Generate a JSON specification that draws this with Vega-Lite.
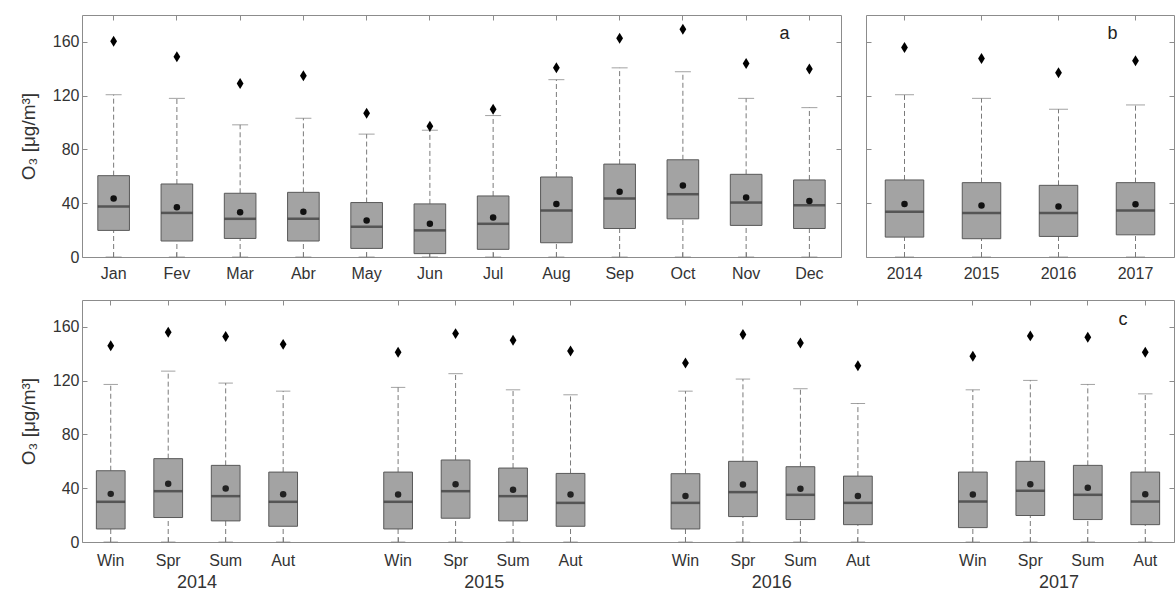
{
  "$schema": "https://vega.github.io/schema/vega-lite/v6.json",
  "padding": {"left": 18, "top": 14, "right": 0, "bottom": 0},
  "background": "white",
  "config": {
    "view": {"stroke": "#8c8c8c", "strokeWidth": 1},
    "font": "Liberation Sans",
    "axis": {"labelFont": "Liberation Sans", "labelFontSize": 16, "labelColor": "#333333", "tickColor": "#8c8c8c", "domain": false, "grid": false, "titleFont": "Liberation Sans", "titleFontSize": 19, "titleFontWeight": "normal", "titleColor": "#333333"},
    "title": {"font": "Liberation Sans", "fontSize": 18, "fontWeight": "normal", "color": "#222222"}
  },
  "datasets": {
    "monthly": [
      {"cat": "Jan", "lo": 0, "q1": 19.8, "med": 37.5, "q3": 60.5, "hi": 120.7, "mean": 43.5, "max": 160.5},
      {"cat": "Fev", "lo": 0, "q1": 11.9, "med": 32.8, "q3": 54.3, "hi": 118, "mean": 37, "max": 148.9},
      {"cat": "Mar", "lo": 0, "q1": 13.8, "med": 28.4, "q3": 47.4, "hi": 98.3, "mean": 33.3, "max": 129},
      {"cat": "Abr", "lo": 0, "q1": 11.9, "med": 28.4, "q3": 48.1, "hi": 103.2, "mean": 33.6, "max": 134.8},
      {"cat": "May", "lo": 0, "q1": 6.4, "med": 22.5, "q3": 40.5, "hi": 91.4, "mean": 27.2, "max": 106.9},
      {"cat": "Jun", "lo": 0, "q1": 2.5, "med": 19.8, "q3": 39.5, "hi": 94.3, "mean": 24.7, "max": 97.3},
      {"cat": "Jul", "lo": 0, "q1": 5.7, "med": 24.7, "q3": 45.4, "hi": 105.2, "mean": 29.4, "max": 109.9},
      {"cat": "Aug", "lo": 0, "q1": 10.6, "med": 34.6, "q3": 59.5, "hi": 131.9, "mean": 39.5, "max": 140.7},
      {"cat": "Sep", "lo": 0, "q1": 21.2, "med": 43.5, "q3": 69.1, "hi": 140.7, "mean": 48.6, "max": 162.7},
      {"cat": "Oct", "lo": 0, "q1": 28.4, "med": 46.7, "q3": 72.3, "hi": 137.8, "mean": 53.1, "max": 169.4},
      {"cat": "Nov", "lo": 0, "q1": 23.5, "med": 40.5, "q3": 61.5, "hi": 118, "mean": 44.2, "max": 144},
      {"cat": "Dec", "lo": 0, "q1": 21.2, "med": 38.5, "q3": 57.3, "hi": 111.1, "mean": 41.7, "max": 139.8}
    ],
    "yearly": [
      {"cat": "2014", "lo": 0, "q1": 14.8, "med": 33.6, "q3": 57.3, "hi": 120.7, "mean": 39.5, "max": 155.8},
      {"cat": "2015", "lo": 0, "q1": 13.6, "med": 32.8, "q3": 55.3, "hi": 118, "mean": 38.3, "max": 147.7},
      {"cat": "2016", "lo": 0, "q1": 15.3, "med": 32.8, "q3": 53.3, "hi": 109.9, "mean": 37.5, "max": 137},
      {"cat": "2017", "lo": 0, "q1": 16.5, "med": 34.6, "q3": 55.3, "hi": 113.1, "mean": 39.3, "max": 145.9}
    ],
    "seasonal": [
      {"cat": "2014 Win", "lo": 0, "q1": 9.7, "med": 29.9, "q3": 53, "hi": 117.2, "mean": 35.8, "max": 146},
      {"cat": "2014 Spr", "lo": 0, "q1": 18.2, "med": 37.8, "q3": 62, "hi": 127.1, "mean": 43.3, "max": 156},
      {"cat": "2014 Sum", "lo": 0, "q1": 15.7, "med": 34.1, "q3": 57, "hi": 118.2, "mean": 39.8, "max": 152.8},
      {"cat": "2014 Aut", "lo": 0, "q1": 11.7, "med": 29.9, "q3": 52, "hi": 112.2, "mean": 35.6, "max": 147},
      {"cat": "2015 Win", "lo": 0, "q1": 9.7, "med": 29.9, "q3": 52, "hi": 115, "mean": 35.3, "max": 141.1},
      {"cat": "2015 Spr", "lo": 0, "q1": 17.7, "med": 37.8, "q3": 61, "hi": 125.2, "mean": 43, "max": 155},
      {"cat": "2015 Sum", "lo": 0, "q1": 15.7, "med": 34.1, "q3": 55, "hi": 113.2, "mean": 38.8, "max": 150},
      {"cat": "2015 Aut", "lo": 0, "q1": 11.7, "med": 29.1, "q3": 51, "hi": 109.5, "mean": 35.3, "max": 142.1},
      {"cat": "2016 Win", "lo": 0, "q1": 9.7, "med": 29.1, "q3": 50.8, "hi": 112.2, "mean": 34.3, "max": 133.1},
      {"cat": "2016 Spr", "lo": 0, "q1": 18.9, "med": 37.1, "q3": 60, "hi": 121.2, "mean": 42.8, "max": 154.3},
      {"cat": "2016 Sum", "lo": 0, "q1": 16.7, "med": 35.1, "q3": 56, "hi": 114, "mean": 39.6, "max": 148},
      {"cat": "2016 Aut", "lo": 0, "q1": 12.9, "med": 29.1, "q3": 49, "hi": 103, "mean": 34.3, "max": 131.1},
      {"cat": "2017 Win", "lo": 0, "q1": 10.7, "med": 30.1, "q3": 52, "hi": 113.2, "mean": 35.3, "max": 138.1},
      {"cat": "2017 Spr", "lo": 0, "q1": 19.7, "med": 38.1, "q3": 60, "hi": 120.2, "mean": 43, "max": 153.3},
      {"cat": "2017 Sum", "lo": 0, "q1": 16.7, "med": 35.1, "q3": 57, "hi": 117.2, "mean": 40.3, "max": 152.3},
      {"cat": "2017 Aut", "lo": 0, "q1": 12.9, "med": 30.1, "q3": 52, "hi": 110.2, "mean": 35.6, "max": 141.1}
    ]
  },
  "spacing": 17,
  "vconcat": [
    {
      "bounds": "flush",
      "spacing": 25,
      "hconcat": [
        {
          "width": 759, "height": 242,
          "title": {"text": "a", "anchor": "end", "offset": 0, "dx": -52, "dy": 28},
          "data": {"name": "monthly"},
          "layer": [
            {"mark": {"type": "rule", "color": "#7a7a7a", "strokeDash": [5, 3]},
             "encoding": {
               "x": {"field": "cat", "type": "nominal", "scale": {"domain": ["Jan","Fev","Mar","Abr","May","Jun","Jul","Aug","Sep","Oct","Nov","Dec"], "paddingInner": 0, "paddingOuter": 0}, "axis": {"orient": "bottom", "title": null, "labelAngle": 0, "tickSize": -5, "labelPadding": 13}},
               "y": {"field": "q3", "type": "quantitative", "scale": {"domain": [0, 180], "nice": false}, "axis": {"values": [0, 40, 80, 120, 160], "title": "O₃ [μg/m³]", "tickSize": -5, "labelPadding": 8, "titlePadding": 14}},
               "y2": {"field": "hi"}}},
            {"mark": {"type": "rule", "color": "#7a7a7a", "strokeDash": [5, 3]},
             "encoding": {"x": {"field": "cat", "type": "nominal", "axis": null}, "y": {"field": "lo", "type": "quantitative", "axis": null}, "y2": {"field": "q1"}}},
            {"mark": {"type": "bar", "fill": "#a3a3a3", "stroke": "#595959", "strokeWidth": 1, "width": {"band": 0.5}},
             "encoding": {"x": {"field": "cat", "type": "nominal", "axis": null}, "y": {"field": "q1", "type": "quantitative", "axis": null}, "y2": {"field": "q3"}}},
            {"mark": {"type": "tick", "color": "#7a7a7a", "size": 16, "thickness": 1},
             "encoding": {"x": {"field": "cat", "type": "nominal", "axis": null}, "y": {"field": "hi", "type": "quantitative", "axis": null}}},
            {"mark": {"type": "tick", "color": "#7a7a7a", "size": 16, "thickness": 1},
             "encoding": {"x": {"field": "cat", "type": "nominal", "axis": null}, "y": {"field": "lo", "type": "quantitative", "axis": null}}},
            {"mark": {"type": "tick", "color": "#333333", "size": 31.6, "thickness": 2.5},
             "encoding": {"x": {"field": "cat", "type": "nominal", "axis": null}, "y": {"field": "med", "type": "quantitative", "axis": null}}},
            {"mark": {"type": "point", "filled": true, "color": "#111111", "size": 42, "opacity": 1, "shape": "circle"},
             "encoding": {"x": {"field": "cat", "type": "nominal", "axis": null}, "y": {"field": "mean", "type": "quantitative", "axis": null}}},
            {"mark": {"type": "point", "filled": true, "color": "#000000", "size": 120, "opacity": 1, "shape": "M0,-1L0.62,0L0,1L-0.62,0Z"},
             "encoding": {
               "x": {"field": "cat", "type": "nominal", "axis": {"orient": "top", "labels": false, "title": null, "tickSize": -5}},
               "y": {"field": "max", "type": "quantitative", "axis": {"orient": "right", "labels": false, "title": null, "tickSize": -5, "values": [0, 40, 80, 120, 160]}}}}
          ],
          "resolve": {"axis": {"x": "independent", "y": "independent"}}
        },
        {
          "width": 308, "height": 242,
          "title": {"text": "b", "anchor": "end", "offset": 0, "dx": -57, "dy": 28},
          "data": {"name": "yearly"},
          "layer": [
            {"mark": {"type": "rule", "color": "#7a7a7a", "strokeDash": [5, 3]},
             "encoding": {
               "x": {"field": "cat", "type": "nominal", "scale": {"domain": ["2014","2015","2016","2017"], "paddingInner": 0, "paddingOuter": 0}, "axis": {"orient": "bottom", "title": null, "labelAngle": 0, "tickSize": -5, "labelPadding": 13}},
               "y": {"field": "q3", "type": "quantitative", "scale": {"domain": [0, 180], "nice": false}, "axis": {"values": [0, 40, 80, 120, 160], "title": null, "labels": false, "tickSize": -5}},
               "y2": {"field": "hi"}}},
            {"mark": {"type": "rule", "color": "#7a7a7a", "strokeDash": [5, 3]},
             "encoding": {"x": {"field": "cat", "type": "nominal", "axis": null}, "y": {"field": "lo", "type": "quantitative", "axis": null}, "y2": {"field": "q1"}}},
            {"mark": {"type": "bar", "fill": "#a3a3a3", "stroke": "#595959", "strokeWidth": 1, "width": {"band": 0.5}},
             "encoding": {"x": {"field": "cat", "type": "nominal", "axis": null}, "y": {"field": "q1", "type": "quantitative", "axis": null}, "y2": {"field": "q3"}}},
            {"mark": {"type": "tick", "color": "#7a7a7a", "size": 19, "thickness": 1},
             "encoding": {"x": {"field": "cat", "type": "nominal", "axis": null}, "y": {"field": "hi", "type": "quantitative", "axis": null}}},
            {"mark": {"type": "tick", "color": "#7a7a7a", "size": 19, "thickness": 1},
             "encoding": {"x": {"field": "cat", "type": "nominal", "axis": null}, "y": {"field": "lo", "type": "quantitative", "axis": null}}},
            {"mark": {"type": "tick", "color": "#333333", "size": 38.5, "thickness": 2.5},
             "encoding": {"x": {"field": "cat", "type": "nominal", "axis": null}, "y": {"field": "med", "type": "quantitative", "axis": null}}},
            {"mark": {"type": "point", "filled": true, "color": "#111111", "size": 42, "opacity": 1, "shape": "circle"},
             "encoding": {"x": {"field": "cat", "type": "nominal", "axis": null}, "y": {"field": "mean", "type": "quantitative", "axis": null}}},
            {"mark": {"type": "point", "filled": true, "color": "#000000", "size": 120, "opacity": 1, "shape": "M0,-1L0.62,0L0,1L-0.62,0Z"},
             "encoding": {
               "x": {"field": "cat", "type": "nominal", "axis": {"orient": "top", "labels": false, "title": null, "tickSize": -5}},
               "y": {"field": "max", "type": "quantitative", "axis": {"orient": "right", "labels": false, "title": null, "tickSize": -5, "values": [0, 40, 80, 120, 160]}}}}
          ],
          "resolve": {"axis": {"x": "independent", "y": "independent"}}
        }
      ]
    },
    {
      "width": 1092, "height": 242,
      "title": {"text": "c", "anchor": "end", "offset": 0, "dx": -47, "dy": 29},
      "data": {"name": "seasonal"},
      "layer": [
        {"mark": {"type": "rule", "color": "#7a7a7a", "strokeDash": [5, 3]},
         "encoding": {
           "x": {"field": "cat", "type": "nominal", "scale": {"domain": ["2014 Win","2014 Spr","2014 Sum","2014 Aut","gap1","2015 Win","2015 Spr","2015 Sum","2015 Aut","gap2","2016 Win","2016 Spr","2016 Sum","2016 Aut","gap3","2017 Win","2017 Spr","2017 Sum","2017 Aut"], "paddingInner": 0, "paddingOuter": 0},
             "axis": {"orient": "bottom", "title": null, "labelAngle": 0, "tickSize": -5, "labelPadding": 15, "values": ["2014 Win","2014 Spr","2014 Sum","2014 Aut","2015 Win","2015 Spr","2015 Sum","2015 Aut","2016 Win","2016 Spr","2016 Sum","2016 Aut","2017 Win","2017 Spr","2017 Sum","2017 Aut"], "labelExpr": "split(datum.value, ' ')[1]"}},
           "y": {"field": "q3", "type": "quantitative", "scale": {"domain": [0, 180], "nice": false}, "axis": {"values": [0, 40, 80, 120, 160], "title": "O₃ [μg/m³]", "tickSize": -5, "labelPadding": 8, "titlePadding": 14}},
           "y2": {"field": "hi"}}},
        {"mark": {"type": "rule", "color": "#7a7a7a", "strokeDash": [5, 3]},
         "encoding": {"x": {"field": "cat", "type": "nominal", "axis": null}, "y": {"field": "lo", "type": "quantitative", "axis": null}, "y2": {"field": "q1"}}},
        {"mark": {"type": "bar", "fill": "#a3a3a3", "stroke": "#595959", "strokeWidth": 1, "width": {"band": 0.5}},
         "encoding": {"x": {"field": "cat", "type": "nominal", "axis": null}, "y": {"field": "q1", "type": "quantitative", "axis": null}, "y2": {"field": "q3"}}},
        {"mark": {"type": "tick", "color": "#7a7a7a", "size": 14.4, "thickness": 1},
         "encoding": {"x": {"field": "cat", "type": "nominal", "axis": null}, "y": {"field": "hi", "type": "quantitative", "axis": null}}},
        {"mark": {"type": "tick", "color": "#7a7a7a", "size": 14.4, "thickness": 1},
         "encoding": {"x": {"field": "cat", "type": "nominal", "axis": null}, "y": {"field": "lo", "type": "quantitative", "axis": null}}},
        {"mark": {"type": "tick", "color": "#333333", "size": 28.7, "thickness": 2.5},
         "encoding": {"x": {"field": "cat", "type": "nominal", "axis": null}, "y": {"field": "med", "type": "quantitative", "axis": null}}},
        {"mark": {"type": "point", "filled": true, "color": "#222222", "size": 42, "opacity": 1, "shape": "circle"},
         "encoding": {
           "x": {"field": "cat", "type": "nominal", "axis": {"orient": "bottom", "title": null, "labelAngle": 0, "ticks": false, "domain": false, "labelPadding": 31, "labelFontSize": 18, "labelOffset": 28.7, "values": ["2014 Spr","2015 Spr","2016 Spr","2017 Spr"], "labelExpr": "split(datum.value, ' ')[0]"}},
           "y": {"field": "mean", "type": "quantitative", "axis": null}}},
        {"mark": {"type": "point", "filled": true, "color": "#000000", "size": 120, "opacity": 1, "shape": "M0,-1L0.62,0L0,1L-0.62,0Z"},
         "encoding": {
           "x": {"field": "cat", "type": "nominal", "axis": {"orient": "top", "labels": false, "title": null, "tickSize": -5, "values": ["2014 Win","2014 Spr","2014 Sum","2014 Aut","2015 Win","2015 Spr","2015 Sum","2015 Aut","2016 Win","2016 Spr","2016 Sum","2016 Aut","2017 Win","2017 Spr","2017 Sum","2017 Aut"]}},
           "y": {"field": "max", "type": "quantitative", "axis": {"orient": "right", "labels": false, "title": null, "tickSize": -5, "values": [0, 40, 80, 120, 160]}}}}
      ],
      "resolve": {"axis": {"x": "independent", "y": "independent"}}
    }
  ]
}
